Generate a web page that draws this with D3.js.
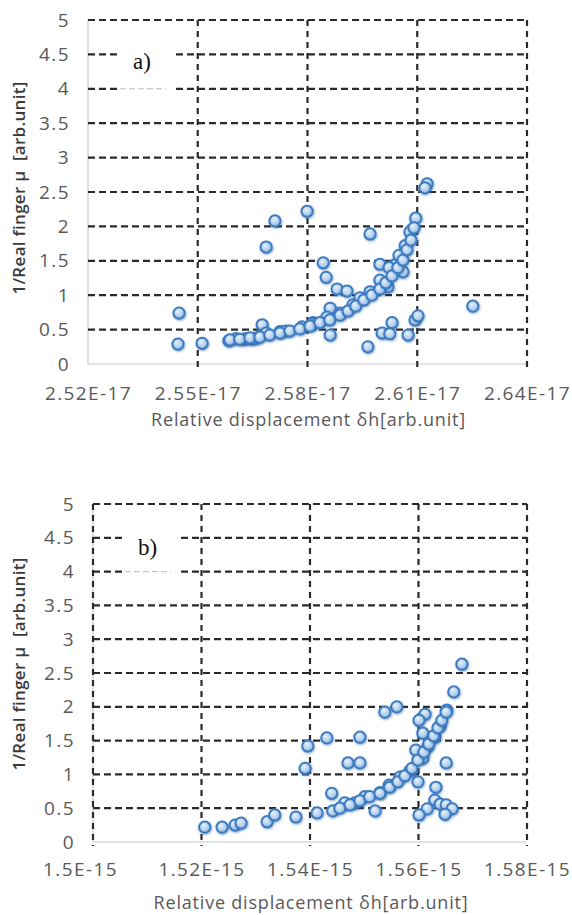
<!DOCTYPE html>
<html>
<head>
<meta charset="utf-8">
<script src="https://cdn.jsdelivr.net/npm/d3@7"></script>
<style>
  html, body { margin: 0; padding: 0; background: #fff; }
  svg { display: block; }
  .ytitle { white-space: pre; }
</style>
</head>
<body>
<svg id="chart" width="572" height="915"></svg>
<script>
// ---------------- DATA ----------------
const yTickValues = [0, 0.5, 1, 1.5, 2, 2.5, 3, 3.5, 4, 4.5, 5];
const yTickLabels = ["0", "0.5", "1", "1.5", "2", "2.5", "3", "3.5", "4", "4.5", "5"];

const xTickValuesA = [2.52e-17, 2.55e-17, 2.58e-17, 2.61e-17, 2.64e-17];
const xTickLabelsA = ["2.52E-17", "2.55E-17", "2.58E-17", "2.61E-17", "2.64E-17"];
const xTickValuesB = [1.50e-15, 1.52e-15, 1.54e-15, 1.56e-15, 1.58e-15];
const xTickLabelsB = ["1.5E-15", "1.52E-15", "1.54E-15", "1.56E-15", "1.58E-15"];

// panel a) : relative displacement (E-17) and 1/real finger
const xA = [
  2.5449, 2.5446, 2.5512, 2.5585, 2.5676, 2.5711, 2.5687, 2.5799, 2.6127, 2.6121,
  2.5971, 2.5843, 2.5851, 2.5881, 2.5908, 2.5862, 2.5965, 2.6004, 2.6031, 2.6025,
  2.6075, 2.6094, 2.6102, 2.6252, 2.6061, 2.5998, 2.6039, 2.6023, 2.6050, 2.6067,
  2.6080, 2.6096, 2.6020, 2.5998, 2.5862, 2.5889, 2.5853, 2.5815, 2.5943, 2.5924,
  2.5971, 2.5624, 2.5662, 2.5687, 2.5725, 2.5741, 2.5785, 2.5812, 2.5632, 2.5650,
  2.5605, 2.5588, 2.5615, 2.5643, 2.5670, 2.5697, 2.5725, 2.5752, 2.5779, 2.5807,
  2.5834, 2.5861, 2.5889, 2.5911, 2.5932, 2.5954, 2.5976, 2.5998, 2.6014, 2.6031,
  2.6047, 2.6061, 2.6072, 2.6083, 2.6091
].map(v => v * 1e-17);
const yA = [
  0.74, 0.29, 0.30, 0.34, 0.57, 2.08, 1.70, 2.22, 2.62, 2.56,
  1.89, 1.47, 1.26, 1.09, 1.06, 0.42, 0.25, 0.45, 0.60, 0.44,
  0.42, 0.64, 0.70, 0.84, 1.34, 1.45, 1.44, 1.40, 1.58, 1.72,
  1.92, 2.12, 1.12, 1.22, 0.81, 0.74, 0.68, 0.60, 0.96, 0.86,
  1.05, 0.36, 0.38, 0.45, 0.47, 0.48, 0.54, 0.58, 0.37, 0.36,
  0.37, 0.35, 0.36, 0.38, 0.39, 0.42, 0.45, 0.48, 0.51, 0.55,
  0.60, 0.64, 0.71, 0.77, 0.84, 0.93, 1.00, 1.09, 1.18, 1.28,
  1.40, 1.51, 1.66, 1.80, 1.98
];

// panel b) : relative displacement (E-15) and 1/real finger
const xB = [
  1.5206, 1.5238, 1.5262, 1.5273, 1.5321, 1.5335, 1.5374, 1.5391, 1.5396, 1.5431,
  1.5413, 1.5440, 1.5442, 1.5464, 1.5470, 1.5492, 1.5492, 1.5680, 1.5665, 1.5652,
  1.5640, 1.5560, 1.5538, 1.5612, 1.5601, 1.5608, 1.5595, 1.5617, 1.5608, 1.5630,
  1.5651, 1.5599, 1.5584, 1.5632, 1.5630, 1.5640, 1.5651, 1.5662, 1.5649, 1.5616,
  1.5601, 1.5520, 1.5501, 1.5483, 1.5464, 1.5546, 1.5529, 1.5566,
  1.5455, 1.5474, 1.5492, 1.5510, 1.5529, 1.5547, 1.5562, 1.5575, 1.5588, 1.5599,
  1.5610, 1.5619, 1.5628, 1.5636, 1.5643, 1.5651
].map(v => v * 1e-15);
const yB = [
  0.22, 0.22, 0.25, 0.28, 0.30, 0.40, 0.37, 1.09, 1.42, 1.54,
  0.43, 0.72, 0.46, 0.56, 1.17, 1.17, 1.55, 2.63, 2.22, 1.95,
  1.72, 2.00, 1.92, 1.89, 1.80, 1.61, 1.36, 1.41, 1.24, 1.55,
  1.17, 0.89, 1.05, 0.81, 0.62, 0.56, 0.55, 0.49, 0.41, 0.49,
  0.40, 0.46, 0.67, 0.58, 0.58, 0.84, 0.73, 0.96,
  0.50, 0.55, 0.61, 0.67, 0.72, 0.81, 0.89, 0.98, 1.09, 1.21,
  1.33, 1.45, 1.57, 1.69, 1.80, 1.92
];

const panelLabels = ["a)", "b)"];
const xTitle = "Relative displacement δh[arb.unit]";
const yTitle = "1/Real finger μ  [arb.unit]";

// ---------------- DRAW ----------------
const svg = d3.select("#chart");
const defs = svg.append("defs");
const grad = defs.append("radialGradient").attr("id", "mk")
  .attr("cx", "40%").attr("cy", "35%").attr("r", "70%");
grad.append("stop").attr("offset", "0%").attr("stop-color", "#e6f0fa");
grad.append("stop").attr("offset", "60%").attr("stop-color", "#b3d0ee");
grad.append("stop").attr("offset", "100%").attr("stop-color", "#7fadde");
const flt = defs.append("filter").attr("id", "sh").attr("x", "-50%").attr("y", "-50%")
  .attr("width", "200%").attr("height", "200%");
flt.append("feDropShadow").attr("dx", 0.6).attr("dy", 1).attr("stdDeviation", 0.9)
  .attr("flood-color", "#2a5d96").attr("flood-opacity", 0.55);

const panels = [
  { x: xA, y: yA, xt: xTickValuesA, xl: xTickLabelsA, label: panelLabels[0],
    left: 88, right: 527, top: 20, bottom: 364, leftGrid: false, firstDx: 0,
    tickY: 400, titleY: 426, labelY: 69, yTitleC: 188 },
  { x: xB, y: yB, xt: xTickValuesB, xl: xTickLabelsB, label: panelLabels[1],
    left: 93, right: 527, top: 504, bottom: 842, leftGrid: true, firstDx: -13,
    tickY: 876, titleY: 909, labelY: 555, yTitleC: 664 }
];

const gridColor = "#2b2b2b";
const dash = "7,4";
const tickFont = { family: "Open Sans, sans-serif", size: 19, ls: 1.4 };

panels.forEach(p => {
  const xs = d3.scaleLinear().domain([p.xt[0], p.xt[p.xt.length - 1]]).range([p.left, p.right]);
  const ys = d3.scaleLinear().domain([0, 5]).range([p.bottom, p.top]);
  const g = svg.append("g");

  // axis lines (light gray)
  g.append("line").attr("x1", p.left).attr("x2", p.right).attr("y1", p.bottom).attr("y2", p.bottom)
    .attr("stroke", "#c8c8c8").attr("stroke-width", 1.2);
  g.append("line").attr("x1", p.left).attr("x2", p.left).attr("y1", p.top).attr("y2", p.bottom)
    .attr("stroke", "#c8c8c8").attr("stroke-width", 1.2);

  // horizontal grid
  g.selectAll(".hg").data(yTickValues.filter(v => v > 0)).join("line")
    .attr("x1", p.left).attr("x2", p.right)
    .attr("y1", d => ys(d)).attr("y2", d => ys(d))
    .attr("stroke", gridColor).attr("stroke-width", 2.2).attr("stroke-dasharray", dash);

  // vertical grid
  g.selectAll(".vg").data(p.leftGrid ? p.xt : p.xt.slice(1)).join("line")
    .attr("x1", d => xs(d)).attr("x2", d => xs(d))
    .attr("y1", p.top).attr("y2", p.bottom + 4)
    .attr("stroke", gridColor).attr("stroke-width", 2.2).attr("stroke-dasharray", "6,5");

  // white box behind panel label
  g.append("rect").attr("x", p.left + 29).attr("y", ys(4.5) - 10)
    .attr("width", 56).attr("height", ys(4) - ys(4.5) + 20).attr("fill", "#fff");
  g.append("line").attr("x1", p.left + 32).attr("x2", p.left + 78)
    .attr("y1", ys(4)).attr("y2", ys(4))
    .attr("stroke", "#bdbdbd").attr("stroke-width", 1).attr("stroke-dasharray", "6,3");
  g.append("text").attr("x", p.left + 45).attr("y", p.labelY)
    .attr("font-family", "Liberation Serif, serif").attr("font-size", 23)
    .attr("fill", "#111").text(p.label);

  // y axis labels
  const yAxis = d3.axisLeft(ys).tickValues(yTickValues)
    .tickFormat((d, i) => yTickLabels[i]).tickSize(0).tickPadding(18);
  const ya = g.append("g").attr("transform", `translate(${p.left},0)`).call(yAxis);
  ya.select(".domain").remove();
  ya.selectAll("text").attr("font-family", tickFont.family).attr("font-size", tickFont.size)
    .attr("letter-spacing", tickFont.ls).attr("fill", "#595959");

  // x axis labels
  const xAxis = d3.axisBottom(xs).tickValues(p.xt)
    .tickFormat((d, i) => p.xl[i]).tickSize(0);
  const xa = g.append("g").attr("transform", `translate(0,${p.bottom})`).call(xAxis);
  xa.select(".domain").remove();
  xa.selectAll("text").attr("font-family", tickFont.family).attr("font-size", tickFont.size)
    .attr("letter-spacing", tickFont.ls)
    .attr("fill", "#595959").attr("dy", null).attr("y", p.tickY - p.bottom)
    .attr("x", (d, i) => i === 0 ? p.firstDx : 0);

  // titles
  g.append("text").attr("x", (p.left + p.right) / 2 + 1).attr("y", p.titleY)
    .attr("text-anchor", "middle").attr("font-family", "Open Sans, sans-serif")
    .attr("font-size", 18).attr("letter-spacing", 0.8).attr("fill", "#595959").text(xTitle);
  g.append("text").attr("class", "ytitle")
    .attr("transform", `translate(25,${p.yTitleC}) rotate(-90)`)
    .attr("text-anchor", "middle").attr("font-family", "Open Sans, sans-serif")
    .attr("font-size", 17).attr("letter-spacing", 0.3).attr("font-weight", 600)
    .attr("fill", "#3a3a3a").text(yTitle);

  // points
  const pts = p.x.map((v, i) => [v, p.y[i]]);
  g.append("g").selectAll("circle").data(pts).join("circle")
    .attr("cx", d => xs(d[0])).attr("cy", d => ys(d[1])).attr("r", 5.6)
    .attr("fill", "url(#mk)").attr("stroke", "#3d7cc2").attr("stroke-width", 2)
    .attr("filter", "url(#sh)");
});
</script>
</body>
</html>
